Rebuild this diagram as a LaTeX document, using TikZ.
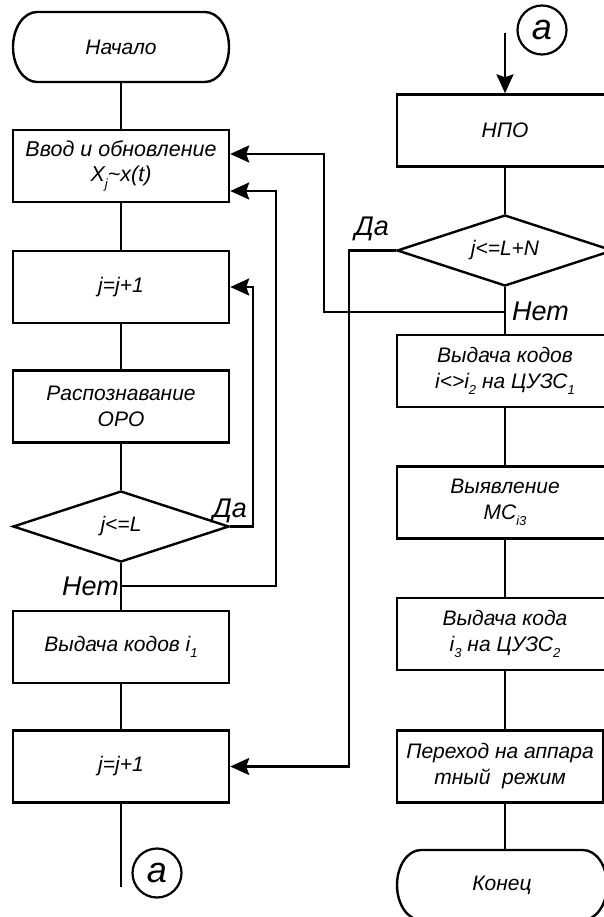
\documentclass[tikz,border=0pt]{standalone}
\usepackage{fontspec}
\usepackage{graphicx}
\setmainfont{Liberation Sans}
\usetikzlibrary{arrows.meta,shapes.geometric}

% lowered small index inside box texts
\newcommand\lowidx[1]{\raisebox{-0.55ex}{\scalebox{0.62}{#1}}}

\tikzset{
  line/.style={line width=2.4pt},
  arr/.style={line width=2.4pt, -{Stealth[length=19pt,width=17pt,inset=3pt]}},
  stepbox/.style={draw, line width=2.4pt, rectangle, minimum width=216pt,
    minimum height=72pt, inner sep=0pt, align=center,
    font=\fontsize{21}{26}\selectfont\itshape},
  decision/.style={draw, line width=2.4pt, diamond, minimum width=216pt,
    minimum height=71pt, inner sep=0pt, aspect=3,
    font=\fontsize{21}{26}\selectfont\itshape},
  terminal/.style={rectangle, minimum height=70pt, inner sep=0pt, outer sep=0pt,
    font=\fontsize{21}{26}\selectfont\itshape},
  connector/.style={draw, line width=2.2pt, circle, minimum size=49pt, inner sep=0pt,
    font=\fontsize{36}{36}\selectfont\itshape},
  lbl/.style={inner sep=0pt, font=\fontsize{27}{27}\selectfont\itshape},
}

\begin{document}
\begin{tikzpicture}[x=1pt,y=1pt]
\useasboundingbox (0,0) rectangle (604,-917);
\clip (0,0) rectangle (604,-917);

% ---------- left column ----------
\node[terminal, minimum width=216pt] (start) at (121,-47) {Начало};
\node[stepbox, font=\fontsize{21.5}{25}\selectfont\itshape] (in1) at (121,-166)
  {Ввод и обновление\\X\lowidx{j}\textasciitilde x(t)};
\node[stepbox] (inc1) at (121,-287) {j=j+1};
\node[stepbox] (rec) at (121,-406.5) {Распознавание\\ОРО};
\node[decision] (dec1) at (121,-526.5) {j<=L};
\node[stepbox] (out1) at (121,-647) {Выдача кодов i\lowidx{1}};
\node[stepbox] (inc2) at (121,-766.5) {j=j+1};
\node[connector] (conA) at (157,-873) {а};
\coordinate (endA) at (121,-887);

% ---------- right column ----------
\node[connector] (conB) at (542,-30) {а};
\coordinate (entry) at (505,-33);
\node[stepbox] (npo) at (505,-130.5) {НПО};
\node[decision] (dec2) at (505,-250.5) {j<=L+N};
\node[stepbox] (out2) at (505,-371) {Выдача кодов\\i<>i\lowidx{2} на ЦУЗС\lowidx{1}};
\node[stepbox] (det) at (505,-502.5) {Выявление\\МС\lowidx{i3}};
\node[stepbox] (out3) at (505,-634) {Выдача кода\\i\lowidx{3} на ЦУЗС\lowidx{2}};
\node[stepbox, minimum width=206pt] (mode) at (500,-766.5) {Переход на аппара\\тный~~режим};
\node[terminal, minimum width=210pt] (stop) at (502,-885) {Конец};

% terminal outlines with elliptic ends
\foreach \t in {start,stop}{
  \draw[line] ([xshift=24pt]\t.north west) -- ([xshift=-24pt]\t.north east)
    arc[start angle=90, end angle=-90, x radius=24pt, y radius=35pt]
    -- ([xshift=24pt]\t.south west)
    arc[start angle=270, end angle=90, x radius=24pt, y radius=35pt] -- cycle;
}

% ---------- main flow, left ----------
\draw[line] (start) -- (in1);
\draw[line] (in1) -- (inc1);
\draw[line] (inc1) -- (rec);
\draw[line] (rec) -- (dec1);
\draw[line] (dec1) -- (out1);
\draw[line] (out1) -- (inc2);
\draw[line] (inc2) -- (endA);

% loops of the left column
\draw[arr] (dec1.east) -- ++(23,0) |- (inc1.east);
\coordinate (nL) at (121,-586);
\coordinate (loopL) at (276,-191);
\draw[arr] (nL) -| (loopL) -- (loopL -| in1.east);

% ---------- main flow, right ----------
\draw[arr] (entry) -- (npo);
\draw[line] (npo) -- (dec2);
\draw[line] (dec2) -- (out2);
\draw[line] (out2) -- (det);
\draw[line] (det) -- (out3);
\draw[line] (out3.south) -- (out3.south |- mode.north);
\draw[line] (out3.south |- mode.south) -- (out3.south |- stop.north);

% branches of the right decision
\coordinate (nR) at (505,-312);
\coordinate (loopR) at (324,-154);
\draw[arr] (nR) -| (loopR) -- (loopR -| in1.east);
\draw[arr] (dec2.west) -- ++(-47,0) |- (inc2.east);

% ---------- branch labels ----------
\node[lbl, anchor=base east] (da1) at (247,-517) {Да};
\node[lbl, anchor=base east] (net1) at (119,-595) {Нет};
\node[lbl, anchor=base east] (da2) at (389,-235) {Да};
\node[lbl, anchor=base west] (net2) at (512,-320) {Нет};
\end{tikzpicture}
\end{document}
